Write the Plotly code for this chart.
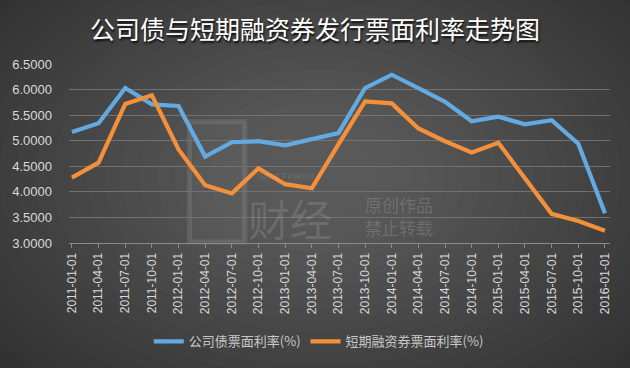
import plotly.graph_objects as go

dates = ["2011-01-01", "2011-04-01", "2011-07-01", "2011-10-01",
         "2012-01-01", "2012-04-01", "2012-07-01", "2012-10-01",
         "2013-01-01", "2013-04-01", "2013-07-01", "2013-10-01",
         "2014-01-01", "2014-04-01", "2014-07-01", "2014-10-01",
         "2015-01-01", "2015-04-01", "2015-07-01", "2015-10-01",
         "2016-01-01"]
corp_bond = [5.17, 5.34, 6.03, 5.71, 5.68, 4.69, 4.97, 4.99, 4.91, 5.03,
             5.15, 6.03, 6.29, 6.03, 5.76, 5.38, 5.47, 5.32, 5.40, 4.94,
             3.58]
short_bill = [4.28, 4.57, 5.72, 5.89, 4.83, 4.13, 3.97, 4.46, 4.15, 4.07,
              4.93, 5.77, 5.73, 5.24, 4.99, 4.77, 4.96, 4.25, 3.57, 3.43,
              3.24]
series_names = ["公司债票面利率(%)", "短期融资券票面利率(%)"]
y_ticks = [3.0, 3.5, 4.0, 4.5, 5.0, 5.5, 6.0, 6.5]
title_text = "公司债与短期融资券发行票面利率走势图"

W, H = 630, 368
L, T, PW, PH = 62, 64, 548, 180


def px(x):
    return (x - L) / PW


def py(y):
    return (T + PH - y) / PH


fig = go.Figure()
fig.add_trace(go.Scatter(x=dates, y=corp_bond, mode="lines", name=series_names[0],
                         line=dict(color="#64AAE2", width=4.2)))
fig.add_trace(go.Scatter(x=dates, y=short_bill, mode="lines", name=series_names[1],
                         line=dict(color="#F48F3A", width=4.2)))

# background radial gradient (stacked translucent ellipses)
shapes = []
n = 22
cx, cy = 315, 178
for i in range(n):
    f = i / n
    rx = 430 - (430 - 40) * f
    ry = 280 - (280 - 30) * f
    shapes.append(dict(type="circle", xref="paper", yref="paper",
                       x0=px(cx - rx), x1=px(cx + rx),
                       y0=py(cy + ry), y1=py(cy - ry),
                       fillcolor="rgba(255,255,255,0.011)", line=dict(width=0),
                       layer="below"))

cjk = "Noto Sans CJK SC"
fig.update_layout(
    width=W, height=H,
    margin=dict(l=L, r=W - L - PW, t=T, b=H - T - PH),
    paper_bgcolor="#303030",
    plot_bgcolor="rgba(0,0,0,0)",
    shapes=shapes,
    title=dict(text=title_text, x=315 / W, xanchor="center", y=1 - 30 / H, yanchor="middle",
               font=dict(family=cjk, size=25, color="#FFFFFF",
                         shadow="1px 2px 2px rgba(0,0,0,0.8)")),
    xaxis=dict(type="category", range=[-0.11, 20.19], tickangle=-90,
               tickfont=dict(family="Liberation Sans, Arial", size=12, color="#D9D9D9"),
               showgrid=False, showline=True, linecolor="#8A8A8A", linewidth=1,
               ticks="outside", ticklen=4, tickcolor="#8A8A8A", zeroline=False),
    yaxis=dict(range=[3.0, 6.5], tickvals=y_ticks,
               ticktext=[f"{v:.4f}" for v in y_ticks],
               tickfont=dict(family="Liberation Sans, Arial", size=13, color="#D9D9D9"),
               showgrid=True, gridcolor="#727272", gridwidth=1, zeroline=False,
               ticks="", ticklabelstandoff=16),
    legend=dict(orientation="h", x=px(315), xanchor="center", y=py(343),
                yanchor="middle", font=dict(family=cjk, size=13, color="#C8C8C8"),
                bgcolor="rgba(0,0,0,0)", itemwidth=30, tracegroupgap=0),
    showlegend=True,
)

# watermark
wm = "rgba(255,255,255,0.16)"
fig.add_annotation(text="原创作品", xref="paper", yref="paper",
                   x=px(360), y=py(205), xanchor="left", yanchor="middle",
                   showarrow=False, font=dict(family=cjk, size=17, color=wm))
fig.add_annotation(text="禁止转载", xref="paper", yref="paper",
                   x=px(360), y=py(228), xanchor="left", yanchor="middle",
                   showarrow=False, font=dict(family=cjk, size=17, color=wm))
fig.add_annotation(text="财经", xref="paper", yref="paper",
                   x=px(241), y=py(218), xanchor="left", yanchor="middle",
                   showarrow=False,
                   font=dict(family=cjk, size=42, color="rgba(255,255,255,0.12)"))
fig.add_annotation(text="Great Finance", xref="paper", yref="paper",
                   x=px(250), y=py(177), xanchor="left", yanchor="middle",
                   showarrow=False,
                   font=dict(family="Liberation Sans, Arial", size=9, color="rgba(255,255,255,0.15)"))
fig.add_shape(type="rect", xref="paper", yref="paper",
              x0=px(184), x1=px(240), y0=py(243), y1=py(122),
              line=dict(color="rgba(255,255,255,0.10)", width=5),
              fillcolor="rgba(255,255,255,0.03)", layer="below")

fig.write_html("out.html", config={"displayModeBar": False},
               post_script="document.body.style.margin='0px';")
